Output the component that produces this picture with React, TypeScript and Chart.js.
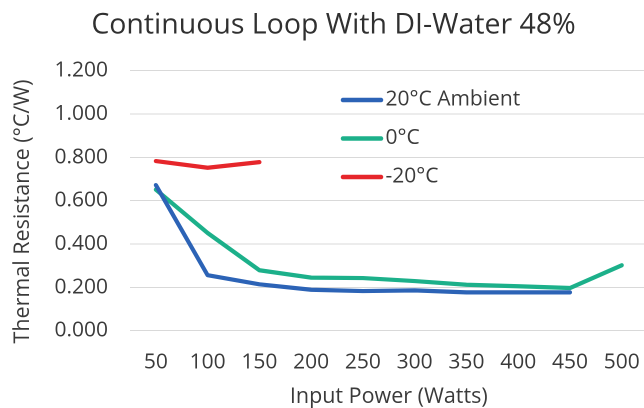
import React, { useEffect, useRef } from "react";
import { Chart, registerables } from "chart.js";

Chart.register(...registerables);

const chartTitle = "Continuous Loop With DI-Water 48%";
const xAxisTitle = "Input Power (Watts)";
const yAxisTitle = "Thermal Resistance (°C/W)";
const inputPower = ["50", "100", "150", "200", "250", "300", "350", "400", "450", "500"];
const ambient20 = [0.672, 0.256, 0.214, 0.189, 0.183, 0.186, 0.177, 0.177, 0.177, null];
const zeroC = [0.651, 0.451, 0.279, 0.245, 0.243, 0.229, 0.212, 0.205, 0.197, 0.302];
const minus20 = [0.783, 0.752, 0.778, null, null, null, null, null, null, null];
const seriesLabels = ["20°C Ambient", "0°C", "-20°C"];
const yMin = 0;
const yMax = 1.2;
const yStep = 0.2;

const FONT = "'Open Sans', sans-serif";
const TEXT = "#3a3a3a";
const COLORS = ["#2c63b6", "#1cb08a", "#e6262b"];

const overlayPlugin = {
  id: "overlay",
  afterDraw(chart: any) {
    const ctx = chart.ctx;
    // chart title
    ctx.save();
    ctx.font = `28.5px ${FONT}`;
    ctx.fillStyle = "#303030";
    ctx.textAlign = "center";
    ctx.textBaseline = "middle";
    ctx.fillText(chartTitle, 333.5, 25.3);
    ctx.restore();

    // y-axis title
    ctx.save();
    ctx.font = `21.5px ${FONT}`;
    ctx.fillStyle = TEXT;
    ctx.textAlign = "center";
    ctx.textBaseline = "middle";
    ctx.translate(22.75, 211.5);
    ctx.rotate(-Math.PI / 2);
    ctx.fillText(yAxisTitle, 0, 0);
    ctx.restore();

    // legend inside plot area
    ctx.save();
    const ys = [100, 138.5, 177];
    chart.data.datasets.forEach((ds: any, i: number) => {
      const y = ys[i];
      ctx.strokeStyle = ds.borderColor;
      ctx.lineWidth = 4.5;
      ctx.lineCap = "round";
      ctx.beginPath();
      ctx.moveTo(343, y);
      ctx.lineTo(381, y);
      ctx.stroke();
      ctx.font = `21px ${FONT}`;
      ctx.fillStyle = TEXT;
      ctx.textAlign = "left";
      ctx.textBaseline = "middle";
      ctx.fillText(ds.label, 385.5, y - 0.5);
    });
    ctx.restore();
  },
};

export default function App() {
  const canvasRef = useRef<HTMLCanvasElement | null>(null);

  useEffect(() => {
    if (!canvasRef.current) return;
    const series = [ambient20, zeroC, minus20];
    const chart = new Chart(canvasRef.current, {
      type: "line",
      data: {
        labels: inputPower,
        datasets: series.map((d, i) => ({
          label: seriesLabels[i],
          data: d,
          borderColor: COLORS[i],
          backgroundColor: COLORS[i],
          borderWidth: 4.2,
          pointRadius: 0,
          tension: 0,
          spanGaps: false,
          borderCapStyle: "round" as const,
          borderJoinStyle: "round" as const,
        })),
      },
      options: {
        animation: false,
        responsive: false,
        devicePixelRatio: 2,
        layout: { padding: { left: 0, top: 70.7, right: 18.4, bottom: 0 } },
        plugins: {
          legend: { display: false },
          tooltip: { enabled: false },
          title: { display: false },
        },
        scales: {
          x: {
            type: "category",
            offset: true,
            grid: { display: false, drawTicks: false },
            border: { display: false },
            ticks: {
              color: TEXT,
              font: { family: FONT, size: 21 },
              padding: 19.2,
              maxRotation: 0,
              autoSkip: false,
            },
            title: {
              display: true,
              text: xAxisTitle,
              color: TEXT,
              font: { family: FONT, size: 21.5, lineHeight: 1 },
              padding: { top: 0, bottom: 0.4 },
            },
            afterFit: (s: any) => {
              s.height = 77.3;
            },
          },
          y: {
            min: yMin,
            max: yMax,
            grid: { color: "#d9d9d9", lineWidth: 1, drawTicks: false },
            border: { display: false },
            ticks: {
              stepSize: yStep,
              color: TEXT,
              font: { family: FONT, size: 21 },
              padding: 22,
              callback: (v: any) => Number(v).toFixed(3),
            },
            afterFit: (s: any) => {
              s.width = 130;
            },
          },
        },
      },
      plugins: [overlayPlugin],
    });
    return () => chart.destroy();
  }, []);

  return (
    <div style={{ position: "fixed", left: 0, top: 0, width: 644, height: 408, overflow: "hidden", background: "#fff" }}>
      <canvas ref={canvasRef} width={666} height={408} style={{ width: 666, height: 408, display: "block" }} />
    </div>
  );
}
